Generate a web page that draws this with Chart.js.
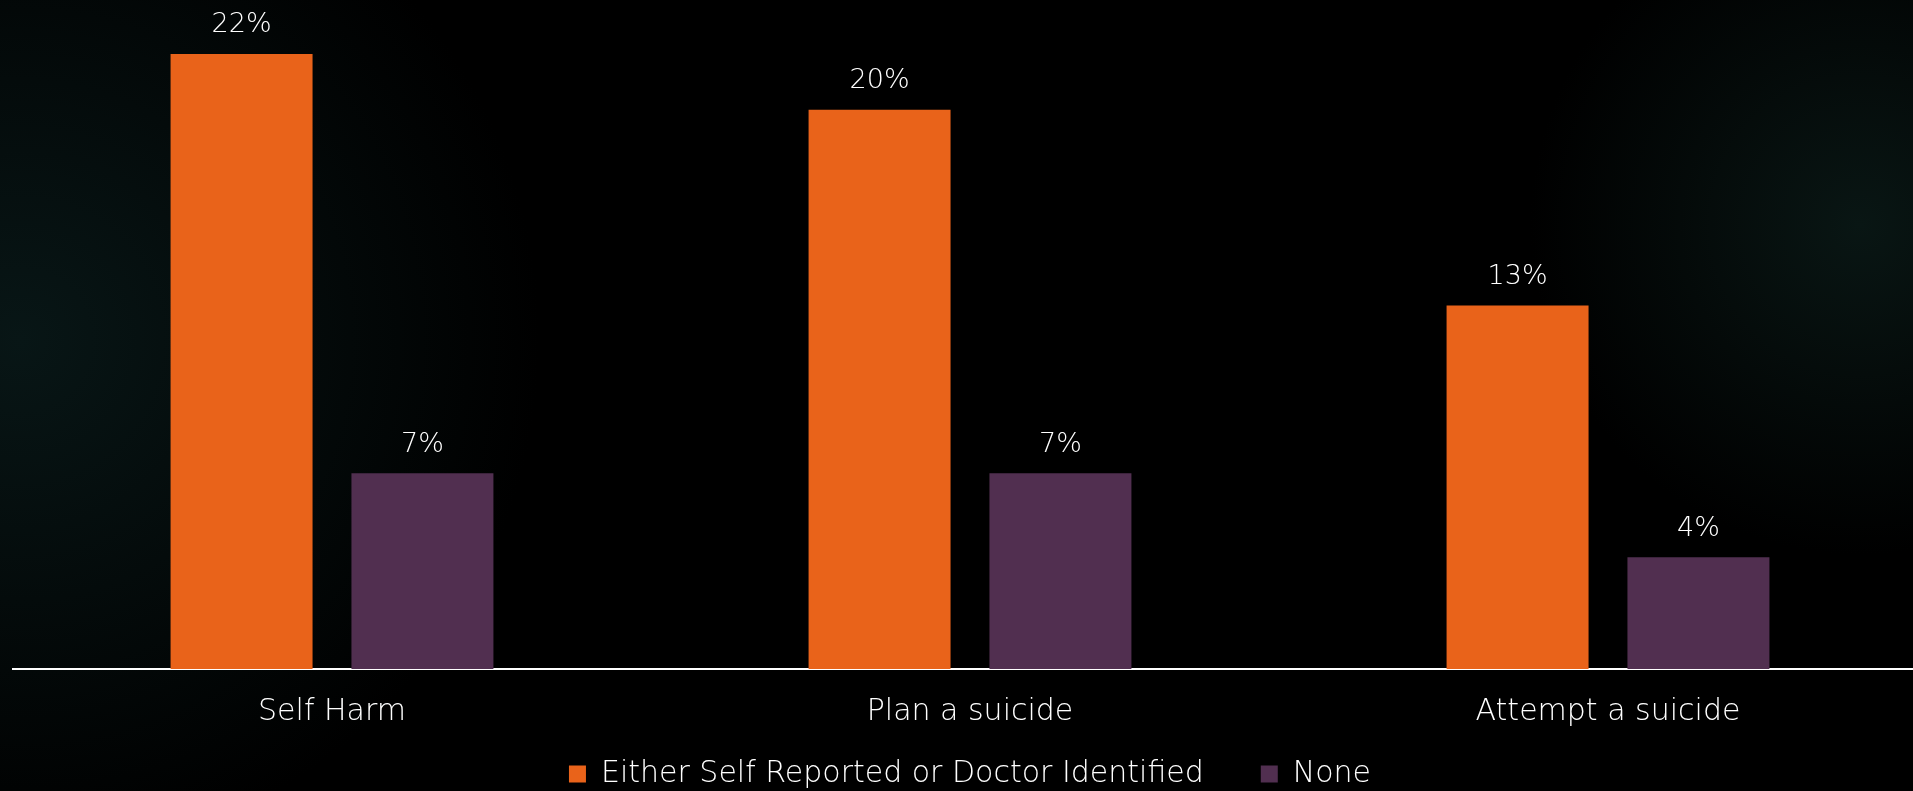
<!DOCTYPE html>
<html>
<head>
<meta charset="utf-8">
<script src="https://cdn.jsdelivr.net/npm/chart.js@4.4.1/dist/chart.umd.min.js"></script>
<style>
html,body{margin:0;padding:0;overflow:hidden;width:1913px;height:791px;}
body{
  background:
    radial-gradient(circle at 1860px 225px, rgba(9,22,20,1) 0, rgba(9,22,20,0) 330px),
    radial-gradient(circle at 20px 340px, rgba(8,22,22,1) 0, rgba(8,22,22,0) 520px),
    #000;
}
#wrap{position:absolute;left:0;top:0;width:1940px;height:791px;}
</style>
</head>
<body>
<div id="wrap"><canvas id="chart" width="1940" height="791"></canvas></div>
<script>
/* values */
const categories = ["Self Harm", "Plan a suicide", "Attempt a suicide"];
const seriesNames = ["Either Self Reported or Doctor Identified", "None"];
const reportedValues = [22, 20, 13];
const noneValues = [7, 7, 4];

const FONT = "'DejaVu Sans', sans-serif";

/* value labels above each bar */
const barLabels = {
    id: "barLabels",
    afterDatasetsDraw(chart){
        const c = chart.ctx;
        c.save();
        c.fillStyle = "#ffffff";
        c.font = "200 27px " + FONT;
        c.textAlign = "center";
        c.textBaseline = "bottom";
        chart.data.datasets.forEach((ds, i) => {
            chart.getDatasetMeta(i).data.forEach((bar, j) => {
                c.fillText(ds.data[j] + "%", bar.x, bar.y - 15);
            });
        });
        c.restore();
    }
};

new Chart(document.getElementById("chart"), {
    type: "bar",
    data: {
        labels: categories,
        datasets: [
            {label: seriesNames[0], data: reportedValues, backgroundColor: "#e9631a"},
            {label: seriesNames[1], data: noneValues, backgroundColor: "#512f50"}
        ]
    },
    options: {
        responsive: false,
        animation: false,
        categoryPercentage: 0.567,
        barPercentage: 0.785,
        layout: {padding: {left: 13, right: 13, top: 12, bottom: -8}},
        plugins: {
            tooltip: {enabled: false},
            legend: {
                position: "bottom",
                labels: {
                    color: "#ffffff",
                    font: {family: FONT, size: 30, weight: 200},
                    boxWidth: 17,
                    boxHeight: 17,
                    padding: 12,
                    // wider gap after the first entry
                    generateLabels(chart){
                        const items = Chart.defaults.plugins.legend.labels.generateLabels(chart);
                        items[0].text = items[0].text + "\u2003\u2002";
                        return items;
                    }
                }
            }
        },
        scales: {
            x: {
                grid: {display: false},
                border: {display: true, color: "#ffffff", width: 2},
                ticks: {color: "#ffffff", font: {family: FONT, size: 30, weight: 200}, padding: 17}
            },
            y: {display: false, min: 0, max: 23.5}
        }
    },
    plugins: [barLabels]
});
</script>
</body>
</html>
